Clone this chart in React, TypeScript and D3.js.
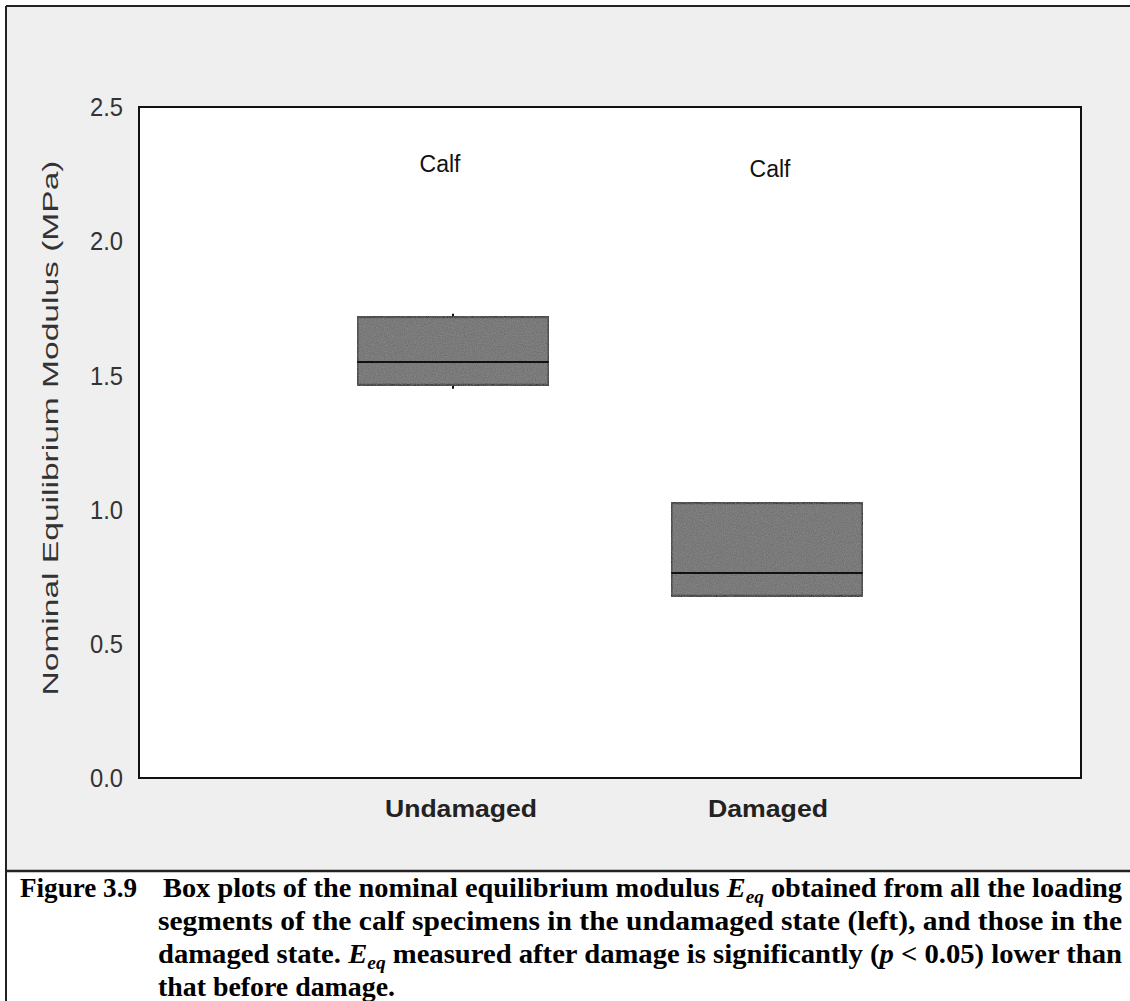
import React from "react";
import * as d3 from "d3";

const categories = ["Undamaged", "Damaged"];
const groupLabels = ["Calf", "Calf"];
const whiskerLow = [1.45, 0.678];
const q1 = [1.464, 0.678];
const median = [1.55, 0.764];
const q3 = [1.718, 1.025];
const whiskerHigh = [1.73, 1.025];
const yTicks = [0, 0.5, 1.0, 1.5, 2.0, 2.5];
const yLabel = "Nominal Equilibrium Modulus (MPa)";

const W = 1130;
const H = 1001;
const plot = { left: 139, top: 107, right: 1081, bottom: 778 };

export default function App() {
  const x = d3
    .scalePoint<string>()
    .domain(categories)
    .range([plot.left, plot.right])
    .padding(1);
  const y = d3.scaleLinear().domain([0, 2.5]).range([plot.bottom, plot.top]);
  const boxW = x.step() * 0.61;
  const fmt = d3.format(".1f");
  const labelOffsets = [8, 1];
  const calfOffsets = [-13, 3];
  const calfBase = [172, 177];

  return (
    <svg
      width={W}
      height={H}
      style={{ position: "absolute", left: 0, top: 0, display: "block" }}
    >
      <defs>
        <filter id="grain" x="0" y="0" width="100%" height="100%">
          <feTurbulence type="fractalNoise" baseFrequency="0.9" numOctaves="2" seed="3" result="n" />
          <feColorMatrix
            type="matrix"
            values="0 0 0 0 0.5  0 0 0 0 0.5  0 0 0 0 0.5  0 0 0 0.35 0"
            in="n"
            result="g"
          />
          <feComposite in="g" in2="SourceGraphic" operator="in" result="gg" />
          <feMerge>
            <feMergeNode in="SourceGraphic" />
            <feMergeNode in="gg" />
          </feMerge>
        </filter>
      </defs>
      <rect x={0} y={0} width={W} height={H} fill="#ffffff" />
      {/* chart background */}
      <rect x={6} y={6} width={W - 6} height={865} fill="#efefef" />
      {/* plot area */}
      <rect
        x={plot.left}
        y={plot.top}
        width={plot.right - plot.left}
        height={plot.bottom - plot.top}
        fill="#ffffff"
        stroke="#111"
        strokeWidth={2}
      />
      {/* outer frame */}
      <line x1={6} y1={6} x2={W} y2={6} stroke="#222" strokeWidth={2} />
      <line x1={6} y1={6} x2={6} y2={H} stroke="#222" strokeWidth={2} />
      <line x1={6} y1={871} x2={W} y2={871} stroke="#222" strokeWidth={2.5} />

      {/* y ticks */}
      {yTicks.map((t) => (
        <text
          key={t}
          x={123}
          y={y(t)}
          dy="0.35em"
          textAnchor="end"
          fontFamily="Arial, Liberation Sans, sans-serif"
          fontSize={26}
          fill="#333"
          textLength={33}
          lengthAdjust="spacingAndGlyphs"
        >
          {fmt(t)}
        </text>
      ))}
      <text
        transform={`translate(58, ${428}) rotate(-90)`}
        textAnchor="middle"
        fontFamily="Arial, Liberation Sans, sans-serif"
        fontSize={22}
        fill="#333"
        textLength={535}
        lengthAdjust="spacingAndGlyphs"
      >
        {yLabel}
      </text>

      {/* boxes */}
      {categories.map((c, i) => {
        const cx = x(c) as number;
        return (
          <g key={c}>
            <line x1={cx} x2={cx} y1={y(whiskerHigh[i])} y2={y(q3[i])} stroke="#111" strokeWidth={2} />
            <line x1={cx} x2={cx} y1={y(q1[i])} y2={y(whiskerLow[i])} stroke="#111" strokeWidth={2} />
            <rect
              x={cx - boxW / 2}
              y={y(q3[i])}
              width={boxW}
              height={y(q1[i]) - y(q3[i])}
              fill="#666"
              stroke="#111"
              strokeWidth={2.5}
              filter="url(#grain)"
            />
            <line
              x1={cx - boxW / 2}
              x2={cx + boxW / 2}
              y1={y(median[i])}
              y2={y(median[i])}
              stroke="#111"
              strokeWidth={2}
            />
            <text
              x={cx + calfOffsets[i]}
              y={calfBase[i]}
              textAnchor="middle"
              fontFamily="Arial, Liberation Sans, sans-serif"
              fontSize={23}
              fill="#111"
            >
              {groupLabels[i]}
            </text>
            <text
              x={cx + labelOffsets[i]}
              y={817}
              textAnchor="middle"
              fontFamily="Arial, Liberation Sans, sans-serif"
              fontSize={24}
              fontWeight="bold"
              fill="#222"
              textLength={i === 0 ? 152 : 120}
              lengthAdjust="spacingAndGlyphs"
            >
              {c}
            </text>
          </g>
        );
      })}

      {/* caption */}
      <g
        fontFamily="Liberation Serif, Times New Roman, serif"
        fontWeight="bold"
        fontSize={28}
        fill="#000"
        style={{ whiteSpace: "pre" }}
      >
        <text x={20} y={897} textLength={117} lengthAdjust="spacingAndGlyphs">
          Figure 3.9
        </text>
        <text x={163} y={897} textLength={959} lengthAdjust="spacingAndGlyphs">
          {"Box plots of the nominal equilibrium modulus "}
          <tspan fontStyle="italic">E</tspan>
          <tspan fontStyle="italic" fontSize={19} dy={6}>eq</tspan>
          <tspan dy={-6}>{" obtained from all the loading"}</tspan>
        </text>
        <text x={158} y={930} textLength={964} lengthAdjust="spacingAndGlyphs">
          segments of the calf specimens in the undamaged state (left), and those in the
        </text>
        <text x={158} y={963} textLength={964} lengthAdjust="spacingAndGlyphs">
          {"damaged state.  "}
          <tspan fontStyle="italic">E</tspan>
          <tspan fontStyle="italic" fontSize={19} dy={6}>eq</tspan>
          <tspan dy={-6}>{" measured after damage is significantly ("}</tspan>
          <tspan fontStyle="italic">p</tspan>
          <tspan>{" < 0.05) lower than"}</tspan>
        </text>
        <text x={158} y={996} textLength={237} lengthAdjust="spacingAndGlyphs">
          that before damage.
        </text>
      </g>
    </svg>
  );
}
